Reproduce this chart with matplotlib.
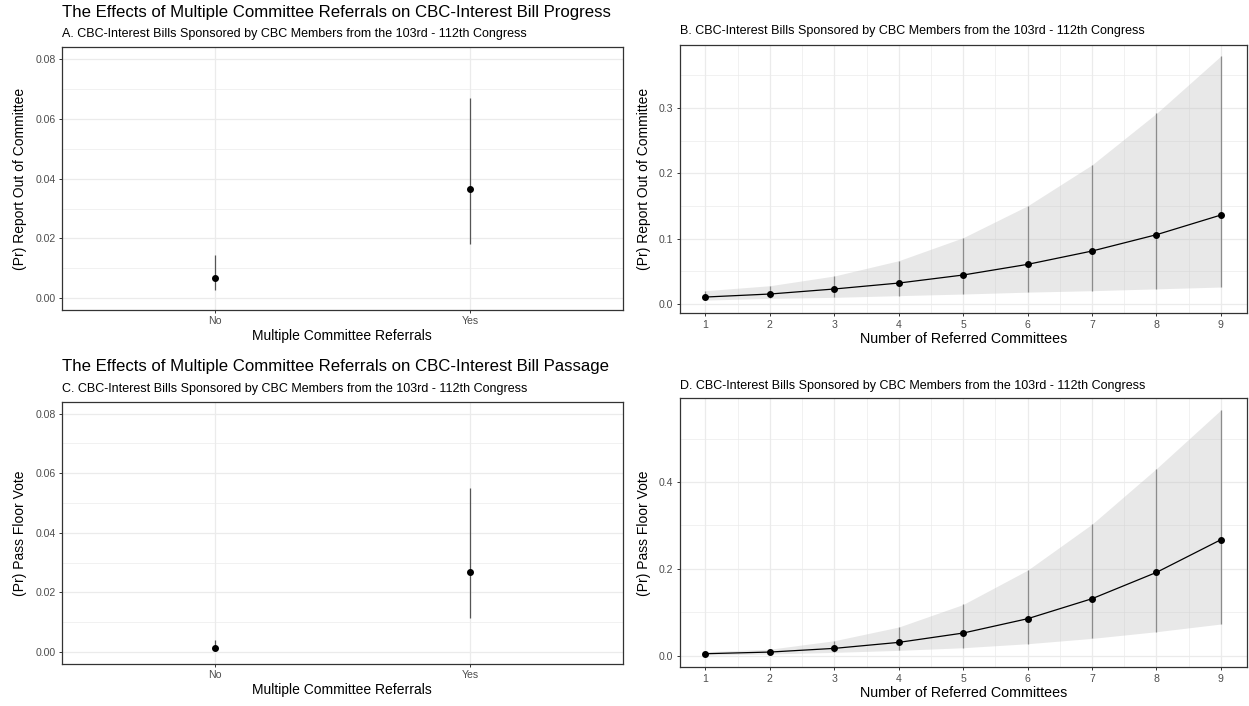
import numpy as np
import matplotlib.pyplot as plt
from matplotlib.ticker import MultipleLocator

plt.rcParams['font.family'] = ['Liberation Sans', 'DejaVu Sans']

# panel A / C : multiple referrals yes / no
referral_labels = ['No', 'Yes']
report_est = [0.0067, 0.0364]
report_lo = [0.0028, 0.0182]
report_hi = [0.0145, 0.0669]

pass_est = [0.0013, 0.0269]
pass_lo = [0.0003, 0.0114]
pass_hi = [0.0041, 0.0549]

# panel B / D : number of referred committees
n_committees = [1, 2, 3, 4, 5, 6, 7, 8, 9]
report_n_est = [0.0107, 0.0153, 0.0230, 0.0321, 0.0444, 0.0607, 0.0811, 0.1061, 0.1362]
report_n_lo = [0.0060, 0.0087, 0.0102, 0.0128, 0.0153, 0.0182, 0.0204, 0.0232, 0.0260]
report_n_hi = [0.0204, 0.0280, 0.0429, 0.0663, 0.1015, 0.1503, 0.2130, 0.2918, 0.3796]

pass_n_est = [0.0046, 0.0084, 0.0169, 0.0307, 0.0522, 0.0852, 0.1313, 0.1919, 0.2672]
pass_n_lo = [0.0015, 0.0040, 0.0077, 0.0123, 0.0184, 0.0276, 0.0399, 0.0553, 0.0730]
pass_n_hi = [0.0092, 0.0150, 0.0345, 0.0660, 0.1180, 0.1970, 0.3030, 0.4310, 0.5660]

W, H = 1249, 706
GRID = '#EBEBEB'
TICKC = '#4D4D4D'
BORDER = '#333333'


def px_axes(fig, left, top, right, bottom):
    return fig.add_axes([left / W, 1 - bottom / H, (right - left) / W, (bottom - top) / H])


def style(ax):
    ax.set_axisbelow(True)
    for s in ax.spines.values():
        s.set_color(BORDER)
        s.set_linewidth(0.9)
    ax.tick_params(which='major', length=2.5, width=0.7, color=BORDER,
                   labelcolor=TICKC, labelsize=7.6, pad=2)
    ax.tick_params(which='minor', length=0)
    ax.grid(which='major', color=GRID, linewidth=0.9)
    ax.grid(which='minor', color=GRID, linewidth=0.5)


def binary_panel(ax, est, lo, hi, ylabel):
    x = np.arange(len(referral_labels))
    ax.vlines(x, lo, hi, color='#555555', linewidth=0.9)
    ax.plot(x, est, 'o', color='black', markersize=4)
    ax.set_xticks(x)
    ax.set_xticklabels(referral_labels)
    ax.set_xlim(-0.6, 1.6)
    ax.set_ylim(-0.004, 0.084)
    ax.yaxis.set_major_locator(MultipleLocator(0.02))
    ax.yaxis.set_minor_locator(MultipleLocator(0.01))
    ax.yaxis.set_major_formatter(lambda v, p: f'{v:.2f}')
    ax.set_xlabel('Multiple Committee Referrals', fontsize=10, labelpad=2)
    ax.set_ylabel(ylabel, fontsize=10, labelpad=6)
    style(ax)
    ax.grid(axis='x', which='minor', visible=False)


def count_panel(ax, est, lo, hi, ylabel, ylim, step):
    ax.fill_between(n_committees, lo, hi, color='#BEBEBE', alpha=0.35, linewidth=0)
    ax.vlines(n_committees, lo, hi, color='#8C8C8C', linewidth=0.9)
    ax.plot(n_committees, est, '-o', color='black', linewidth=0.9, markersize=4)
    ax.set_xlim(0.6, 9.4)
    ax.set_ylim(*ylim)
    ax.xaxis.set_major_locator(MultipleLocator(1))
    ax.xaxis.set_minor_locator(MultipleLocator(0.5))
    ax.yaxis.set_major_locator(MultipleLocator(step))
    ax.yaxis.set_minor_locator(MultipleLocator(step / 2))
    ax.yaxis.set_major_formatter(lambda v, p: f'{v:.1f}')
    ax.set_xlabel('Number of Referred Committees', fontsize=10.3, labelpad=2)
    ax.set_ylabel(ylabel, fontsize=10, labelpad=6)
    style(ax)


fig = plt.figure(figsize=(W / 100, H / 100), dpi=100)

axA = px_axes(fig, 61.7, 47.3, 623, 310)
binary_panel(axA, report_est, report_lo, report_hi, '(Pr) Report Out of Committee')

axB = px_axes(fig, 679.7, 45, 1246.7, 313.3)
count_panel(axB, report_n_est, report_n_lo, report_n_hi,
            '(Pr) Report Out of Committee', (-0.0142, 0.3964), 0.1)

axC = px_axes(fig, 61.7, 401.7, 623, 664)
binary_panel(axC, pass_est, pass_lo, pass_hi, '(Pr) Pass Floor Vote')

axD = px_axes(fig, 679.7, 398.3, 1246.7, 667.3)
count_panel(axD, pass_n_est, pass_n_lo, pass_n_hi,
            '(Pr) Pass Floor Vote', (-0.0267, 0.5928), 0.2)

sub = 'CBC-Interest Bills Sponsored by CBC Members from the 103rd - 112th Congress'
fig.text(61.7 / W, 1 - 17.3 / H,
         'The Effects of Multiple Committee Referrals on CBC-Interest Bill Progress',
         fontsize=12.1, va='baseline', ha='left')
fig.text(61.7 / W, 1 - 37.3 / H, 'A. ' + sub, fontsize=9, va='baseline', ha='left')
fig.text(679.7 / W, 1 - 34 / H, 'B. ' + sub, fontsize=9, va='baseline', ha='left')
fig.text(61.7 / W, 1 - 371 / H,
         'The Effects of Multiple Committee Referrals on CBC-Interest Bill Passage',
         fontsize=12.1, va='baseline', ha='left')
fig.text(61.7 / W, 1 - 391.7 / H, 'C. ' + sub, fontsize=9, va='baseline', ha='left')
fig.text(679.7 / W, 1 - 389.3 / H, 'D. ' + sub, fontsize=9, va='baseline', ha='left')

plt.savefig('out.png', dpi=100)
